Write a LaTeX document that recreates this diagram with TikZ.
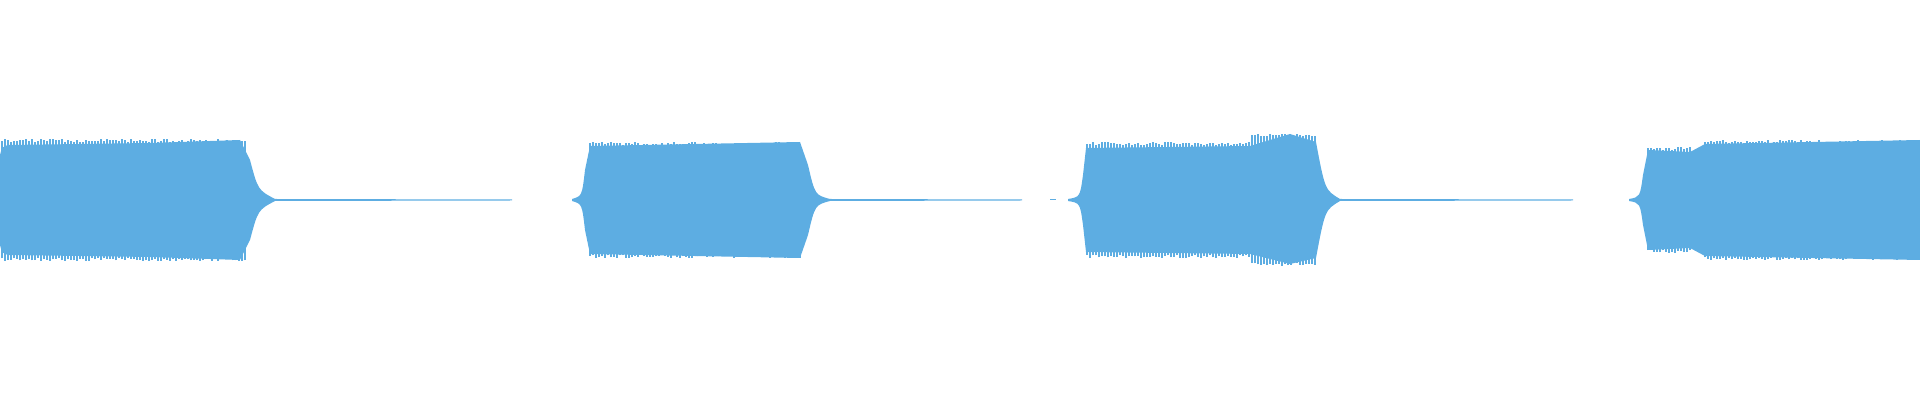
\documentclass[tikz,border=0pt]{standalone}
\definecolor{wave}{RGB}{93,173,226}
\begin{document}
\begin{tikzpicture}[x=0.01cm,y=0.01cm,env/.style={fill=wave,draw=wave,line width=0.3pt},spk/.style={draw=wave,line width=0.4pt}]
\pgfmathsetseed{7}
\useasboundingbox (0,0) rectangle (1920,400);
% burst 1
\fill[wave] (0,155) .. controls (2,147) .. (8,145) -- (150,143) -- (240,140) -- (250,160) .. controls (258,190) .. (275,199) -- (512,199.5) -- (512,200.5) -- (275,201) .. controls (258,210) .. (250,240) -- (240,260) -- (150,257) -- (8,255) .. controls (2,253) .. (0,245) -- cycle;
\foreach \x in {2,5,...,245}{\draw[spk] (\x,{142-3*rnd}) -- (\x,{258+3*rnd});}
% burst 2
\fill[wave] (572,199) .. controls (582,196) .. (585,170) -- (590,146) -- (800,142) -- (808,165) .. controls (815,195) .. (830,199) -- (1022,199.5) -- (1022,200.5) -- (830,201) .. controls (815,205) .. (808,235) -- (800,258) -- (590,254) -- (585,230) .. controls (582,204) .. (572,201) -- cycle;
\foreach \x in {590,593,...,800}{\draw[spk] (\x,{145-3*rnd}) -- (\x,{255+3*rnd});}
% burst 3
\fill[wave] (1050,199.5) rectangle (1056,200.5);
\fill[wave] (1068,199) .. controls (1080,197) .. (1083,175) -- (1086,148) -- (1250,146) -- (1290,136) -- (1316,142) .. controls (1325,190) .. (1340,199) -- (1573,199.5) -- (1573,200.5) -- (1340,201) .. controls (1325,210) .. (1316,258) -- (1290,266) -- (1250,254) -- (1086,252) -- (1083,225) .. controls (1080,203) .. (1068,201) -- cycle;
\foreach \x in {1087,1090,...,1316}{\draw[spk] (\x,{145-3*rnd-(\x>1250)*(\x<1316)*8}) -- (\x,{255+3*rnd+(\x>1250)*(\x<1316)*8});}
% burst 4
\fill[wave] (1629,199) .. controls (1640,197) .. (1643,175) -- (1648,150) -- (1690,152) -- (1705,144) -- (1920,140) -- (1920,260) -- (1705,256) -- (1690,248) -- (1648,250) -- (1643,225) .. controls (1640,203) .. (1629,201) -- cycle;
\foreach \x in {1648,1651,...,1690}{\draw[spk] (\x,{150-3*rnd}) -- (\x,{250+3*rnd});}
\foreach \x in {1705,1708,...,1918}{\draw[spk] (\x,{143-3*rnd}) -- (\x,{257+3*rnd});}
\end{tikzpicture}
\end{document}
